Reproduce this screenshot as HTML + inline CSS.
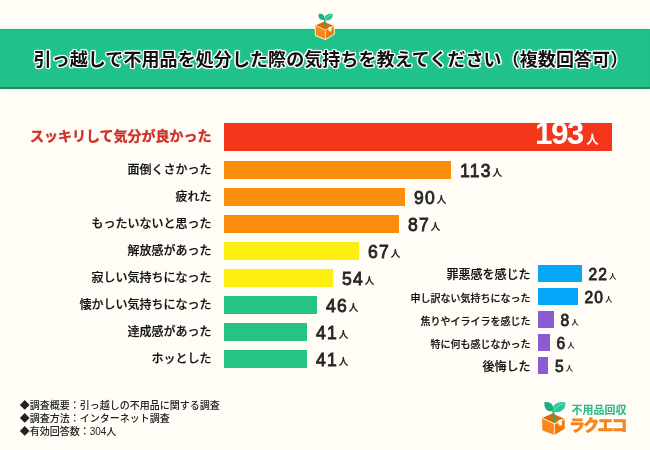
<!DOCTYPE html>
<html lang="ja">
<head>
<meta charset="utf-8">
<title>引っ越しで不用品を処分した際の気持ち</title>
<style>
html,body{margin:0;padding:0;}
body{width:650px;height:450px;overflow:hidden;background:#fffdf6;position:relative;
 font-family:"Liberation Sans","Noto Sans CJK JP",sans-serif;color:#222;}
.abs{position:absolute;}
#band{left:0;top:28.5px;width:650px;height:58px;background:#1fc389;border-bottom:2px solid #3f7d5e;box-shadow:0 3px 3px #ecfff6,0 -2px 2px #ecfff6,inset 0 1px 1px #3aa57e;}
#title{left:33.6px;top:46.5px;letter-spacing:.08px;height:26px;line-height:26px;font-size:18px;font-weight:700;color:#111;white-space:nowrap;
 font-family:"Liberation Sans","Noto Sans CJK JP",sans-serif;
 text-shadow:1.3px 0 0 #fff,-1.3px 0 0 #fff,0 1.3px 0 #fff,0 -1.3px 0 #fff,.9px .9px 0 #fff,-.9px .9px 0 #fff,.9px -.9px 0 #fff,-.9px -.9px 0 #fff,0 0 3px #fff;}
.bar{position:absolute;left:224px;height:18px;}
.lab{position:absolute;right:438.5px;margin-top:-.5px;white-space:nowrap;font-size:12px;font-weight:500;color:#111;-webkit-text-stroke:.2px #111;height:18px;line-height:18px;
 font-family:"Liberation Sans","Noto Sans CJK JP",sans-serif;}
.num{position:absolute;white-space:nowrap;font-size:17.5px;font-weight:400;-webkit-text-stroke:.85px #262626;letter-spacing:1.3px;color:#262626;height:18px;line-height:18px;margin-top:.5px;
 font-family:"Liberation Sans","Noto Sans CJK JP",sans-serif;}
.num i{font-style:normal;font-size:10px;margin-left:.5px;font-weight:700;-webkit-text-stroke:0;letter-spacing:0;position:relative;top:-1px;}
.rbar{position:absolute;left:538px;height:17px;}
.rlab{position:absolute;right:119.5px;margin-top:1.5px;white-space:nowrap;font-weight:500;color:#111;-webkit-text-stroke:.2px #111;height:17px;line-height:17px;
 font-family:"Liberation Sans","Noto Sans CJK JP",sans-serif;}
.s12{font-size:12px;}
.s10{font-size:10px;}
.rnum{position:absolute;white-space:nowrap;font-size:15.6px;font-weight:400;-webkit-text-stroke:.8px #262626;letter-spacing:1.2px;color:#262626;height:17px;line-height:17px;margin-top:1px;
 font-family:"Liberation Sans","Noto Sans CJK JP",sans-serif;}
.rnum i{font-style:normal;font-size:7.5px;margin-left:.8px;font-weight:700;-webkit-text-stroke:0;letter-spacing:0;position:relative;top:-1.5px;}
.note{position:absolute;left:19.7px;font-size:10px;font-weight:500;line-height:13px;height:13px;white-space:nowrap;color:#222;
 font-family:"Liberation Sans","Noto Sans CJK JP",sans-serif;}
</style>
</head>
<body>
<div id="band" class="abs"></div>
<div id="title" class="abs">引っ越しで不用品を処分した際の気持ちを教えてください（複数回答可）</div>

<!-- header icon -->
<svg class="abs" style="left:314.3px;top:10.6px" width="22.4" height="30.4" viewBox="0 0 28 38">
 <path d="M2 18 L12.5 13.5 L24.7 18.9 L24.7 28.7 L14.4 34.9 L2.4 30.4 Z" fill="#fff0d2" stroke="#fff0d2" stroke-width="2.6" stroke-linejoin="round"/>
 <path d="M2 18 L12.5 13.5 L24.7 18.9 L14.4 23.8 Z" fill="#d96a0c"/>
 <path d="M2 18 L14.4 23.8 L14.4 34.9 L2.4 30.4 Z" fill="#f98a1a"/>
 <path d="M14.4 23.8 L24.7 18.9 L24.7 28.7 L14.4 34.9 Z" fill="#ee7911"/>
 <path d="M2 18 L14.4 23.8 L24.7 18.9" fill="none" stroke="#ffe7b5" stroke-width="1.1" stroke-linejoin="round"/>
 <path d="M14.4 23.8 L14.4 34.9" fill="none" stroke="#ffe1a6" stroke-width="1.1"/>
 <path d="M17.8 20.6 L22 18.9 L22 25 L19.4 26.3 L19.4 24 L17.8 24.7 Z" fill="#fff0d2"/>
 <path d="M12.9 10 C13.6 13 14.2 15.5 14.3 20.5" fill="none" stroke="#1fae7c" stroke-width="1.9" stroke-linecap="round"/>
 <g transform="translate(13 12) scale(.85) translate(-13 -12)">
 <path d="M12.6 10.9 C7 12.6 3.4 8 4.6 2.1 C10.6 0.9 14.6 5 12.6 10.9 Z" fill="#1fae7c"/>
 <path d="M13 11.5 C11.4 5 17.5 0.9 25.3 2.4 C26.2 9 20.5 13.6 13 11.5 Z" fill="#2fc799"/>
 <path d="M14 10.6 C16 7 19 4.8 23.5 3.6" fill="none" stroke="#7fe3c3" stroke-width=".8" stroke-linecap="round"/>
 </g>
</svg>

<!-- main bars -->
<div class="bar" style="top:122.5px;height:28px;width:388px;background:#f4361b"></div>
<div class="lab" style="top:122.4px;height:28px;line-height:28px;font-size:14px;font-weight:700;color:#cf302a;-webkit-text-stroke:.35px #cf302a">スッキリして気分が良かった</div>
<div class="abs" style="left:535px;top:116px;height:34px;line-height:34px;font-size:31.5px;font-weight:700;letter-spacing:-1.6px;color:#fff;white-space:nowrap;font-family:'Liberation Sans','Noto Sans CJK JP',sans-serif">193<span style="font-size:12.5px;margin-left:3.5px;letter-spacing:0">人</span></div>

<div class="bar" style="top:161px;width:227px;background:#fd8d0c"></div>
<div class="lab" style="top:161px">面倒くさかった</div>
<div class="num" style="top:161px;left:460px">113<i>人</i></div>

<div class="bar" style="top:188px;width:181px;background:#fd8d0c"></div>
<div class="lab" style="top:188px">疲れた</div>
<div class="num" style="top:188px;left:414px">90<i>人</i></div>

<div class="bar" style="top:215px;width:175px;background:#fd8d0c"></div>
<div class="lab" style="top:215px">もったいないと思った</div>
<div class="num" style="top:215px;left:408px">87<i>人</i></div>

<div class="bar" style="top:242px;width:135px;background:#fdee12"></div>
<div class="lab" style="top:242px">解放感があった</div>
<div class="num" style="top:242px;left:368px">67<i>人</i></div>

<div class="bar" style="top:269px;width:109px;background:#fdee12"></div>
<div class="lab" style="top:269px">寂しい気持ちになった</div>
<div class="num" style="top:269px;left:342px">54<i>人</i></div>

<div class="bar" style="top:296px;width:93px;background:#25c386"></div>
<div class="lab" style="top:296px">懐かしい気持ちになった</div>
<div class="num" style="top:296px;left:326px">46<i>人</i></div>

<div class="bar" style="top:323px;width:83px;background:#25c386"></div>
<div class="lab" style="top:323px">達成感があった</div>
<div class="num" style="top:323px;left:316px">41<i>人</i></div>

<div class="bar" style="top:350px;width:83px;background:#25c386"></div>
<div class="lab" style="top:350px">ホッとした</div>
<div class="num" style="top:350px;left:316px">41<i>人</i></div>

<!-- right column -->
<div class="rbar" style="top:265px;width:44px;background:#06a6f9"></div>
<div class="rlab s12" style="top:265px">罪悪感を感じた</div>
<div class="rnum" style="top:265px;left:588.5px">22<i>人</i></div>

<div class="rbar" style="top:288px;width:40px;background:#06a6f9"></div>
<div class="rlab s10" style="top:288px">申し訳ない気持ちになった</div>
<div class="rnum" style="top:288px;left:584.5px">20<i>人</i></div>

<div class="rbar" style="top:311px;width:16px;background:#8b5bd3"></div>
<div class="rlab s10" style="top:311px">焦りやイライラを感じた</div>
<div class="rnum" style="top:311px;left:560.5px">8<i>人</i></div>

<div class="rbar" style="top:334px;width:12px;background:#8b5bd3"></div>
<div class="rlab s10" style="top:334px">特に何も感じなかった</div>
<div class="rnum" style="top:334px;left:556.5px">6<i>人</i></div>

<div class="rbar" style="top:357px;width:10px;background:#8b5bd3"></div>
<div class="rlab s12" style="top:357px">後悔した</div>
<div class="rnum" style="top:357px;left:555px">5<i>人</i></div>

<!-- notes -->
<div class="note" style="top:398.8px">◆調査概要：引っ越しの不用品に関する調査</div>
<div class="note" style="top:412.1px">◆調査方法：インターネット調査</div>
<div class="note" style="top:425.4px">◆有効回答数：304人</div>

<!-- logo -->
<svg class="abs" style="left:540px;top:400px" width="28" height="38" viewBox="0 0 28 38">
 <path d="M2 18 L12.5 13.5 L24.7 18.9 L14.4 23.8 Z" fill="#d96a0c"/>
 <path d="M2 18 L14.4 23.8 L14.4 34.9 L2.4 30.4 Z" fill="#f98a1a"/>
 <path d="M14.4 23.8 L24.7 18.9 L24.7 28.7 L14.4 34.9 Z" fill="#ee7911"/>
 <path d="M2 18 L14.4 23.8 L24.7 18.9" fill="none" stroke="#ffe7b5" stroke-width="1.1" stroke-linejoin="round"/>
 <path d="M14.4 23.8 L14.4 34.9" fill="none" stroke="#ffe1a6" stroke-width="1.1"/>
 <path d="M17.8 20.6 L22 18.9 L22 25 L19.4 26.3 L19.4 24 L17.8 24.7 Z" fill="#fff0d2"/>
 <path d="M12.9 10 C13.6 13 14.2 15.5 14.3 20.5" fill="none" stroke="#1fae7c" stroke-width="1.9" stroke-linecap="round"/>
 <path d="M12.6 10.9 C7 12.6 3.4 8 4.6 2.1 C10.6 0.9 14.6 5 12.6 10.9 Z" fill="#1fae7c"/>
 <path d="M13 11.5 C11.4 5 17.5 0.9 25.3 2.4 C26.2 9 20.5 13.6 13 11.5 Z" fill="#2fc799"/>
 <path d="M14 10.6 C16 7 19 4.8 23.5 3.6" fill="none" stroke="#7fe3c3" stroke-width=".8" stroke-linecap="round"/>
</svg>
<div class="abs" style="left:571.5px;top:402.5px;font-size:11px;font-weight:700;color:#27b883;line-height:14px;white-space:nowrap;font-family:'Liberation Sans','Noto Sans CJK JP',sans-serif">不用品回収</div>
<div class="abs" style="left:569px;top:415px;font-size:16px;font-weight:900;letter-spacing:-1.8px;color:#f5851c;-webkit-text-stroke:.4px #f5851c;line-height:22px;white-space:nowrap;font-family:'Liberation Sans','Noto Sans CJK JP',sans-serif">ラクエコ</div>
</body>
</html>
